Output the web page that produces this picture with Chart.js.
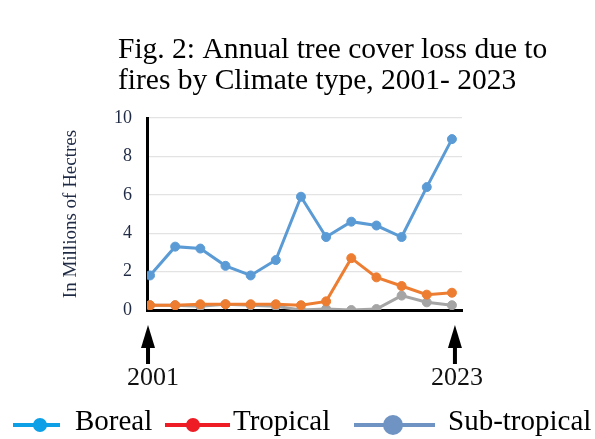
<!DOCTYPE html>
<html>
<head>
<meta charset="utf-8">
<script src="https://cdn.jsdelivr.net/npm/chart.js@4"></script>
<style>
  html, body { margin: 0; padding: 0; background: #fff; }
  #wrap { width: 595px; height: 439px; }
</style>
</head>
<body>
<div id="wrap"><canvas id="chart" width="595" height="439"></canvas></div>
<script>
// values (millions of hectares)
const boreal = [1.8, 3.3, 3.2, 2.3, 1.8, 2.6, 5.9, 3.8, 4.6, 4.4, 3.8, 6.4, 8.9];
const tropical = [0.25, 0.25, 0.3, 0.3, 0.3, 0.3, 0.25, 0.45, 2.7, 1.7, 1.25, 0.8, 0.9];
const subTropical = [0.25, 0.25, 0.2, 0.3, 0.25, 0.2, 0.0, 0.05, 0.0, 0.05, 0.75, 0.4, 0.25];
const firstYear = '2001';
const lastYear = '2023';
const yTicks = [0, 2, 4, 6, 8, 10];

const serif = '"Liberation Serif", "DejaVu Serif", serif';

const toPoints = arr => arr.map((v, i) => ({ x: i, y: v }));

// title, arrows with years, legend
const extras = {
  id: 'extras',
  afterDraw(chart) {
    const ctx = chart.ctx;
    const x = chart.scales.x;
    ctx.save();
    ctx.fillStyle = '#000';
    ctx.font = '29.5px ' + serif;
    ctx.textBaseline = 'alphabetic';
    ctx.textAlign = 'left';
    ctx.fillText('Fig. 2: Annual tree cover loss due to', 118, 58);
    ctx.fillText('fires by Climate type, 2001- 2023', 118, 89);

    const arrow = (px) => {
      ctx.fillStyle = '#000';
      ctx.fillRect(px - 2, 340, 4, 24);
      ctx.beginPath();
      ctx.moveTo(px, 325);
      ctx.lineTo(px + 7, 348);
      ctx.lineTo(px - 7, 348);
      ctx.closePath();
      ctx.fill();
    };
    const x0 = x.getPixelForValue(0);
    const x1 = x.getPixelForValue(boreal.length - 1);
    arrow(x0 - 2);
    arrow(x1 + 3);
    ctx.font = '26px ' + serif;
    ctx.textAlign = 'center';
    ctx.fillStyle = '#111';
    ctx.fillText(firstYear, x0 + 3, 385);
    ctx.fillText(lastYear, x1 + 5, 385);

    // legend
    const items = [
      { label: 'Boreal', color: '#0ea0e6', x1: 13, x2: 60, dot: 40, r: 7, tx: 75 },
      { label: 'Tropical', color: '#ee1c25', x1: 165, x2: 230, dot: 193, r: 7, tx: 233 },
      { label: 'Sub-tropical', color: '#6f93c3', x1: 354, x2: 435, dot: 393, r: 10, tx: 448 }
    ];
    const ly = 425;
    items.forEach(it => {
      ctx.strokeStyle = it.color;
      ctx.lineWidth = 4;
      ctx.beginPath();
      ctx.moveTo(it.x1, ly);
      ctx.lineTo(it.x2, ly);
      ctx.stroke();
      ctx.fillStyle = it.color;
      ctx.beginPath();
      ctx.arc(it.dot, ly, it.r, 0, Math.PI * 2);
      ctx.fill();
      ctx.fillStyle = '#000';
      ctx.textAlign = 'left';
      ctx.font = '29px ' + serif;
      ctx.fillText(it.label, it.tx, 430);
    });
    ctx.restore();
  }
};

new Chart(document.getElementById('chart'), {
  type: 'line',
  data: {
    datasets: [
      { label: 'Boreal', data: toPoints(boreal), borderColor: '#5b9bd5', backgroundColor: '#5b9bd5' },
      { label: 'Tropical', data: toPoints(tropical), borderColor: '#ed7d31', backgroundColor: '#ed7d31' },
      { label: 'Sub-tropical', data: toPoints(subTropical), borderColor: '#a5a5a5', backgroundColor: '#a5a5a5' }
    ]
  },
  options: {
    responsive: false,
    animation: false,
    layout: { padding: { left: 60, right: 133, top: 118, bottom: 121 } },
    elements: {
      line: { borderWidth: 3, tension: 0 },
      point: { radius: 4.5, hoverRadius: 4.5 }
    },
    plugins: {
      legend: { display: false },
      title: { display: false },
      tooltip: { enabled: false }
    },
    scales: {
      x: {
        type: 'linear',
        min: -0.12,
        max: 12.4,
        grid: { display: false },
        border: { display: true, color: '#000', width: 3 },
        ticks: { display: false }
      },
      y: {
        min: 0,
        max: 10,
        afterFit(scale) { scale.width = 87; },
        afterBuildTicks(scale) { scale.ticks = yTicks.map(v => ({ value: v })); },
        grid: { color: '#e3e3e3', lineWidth: 1.2, drawTicks: false },
        border: { color: '#000', width: 3 },
        ticks: {
          padding: 15,
          color: '#1f2a44',
          font: { family: serif, size: 18 }
        },
        title: {
          display: true,
          text: 'In Millions of Hectres',
          color: '#1f2a44',
          font: { family: serif, size: 19 },
          padding: { top: 0, bottom: 0 }
        }
      }
    }
  },
  plugins: [extras]
});
</script>
</body>
</html>
